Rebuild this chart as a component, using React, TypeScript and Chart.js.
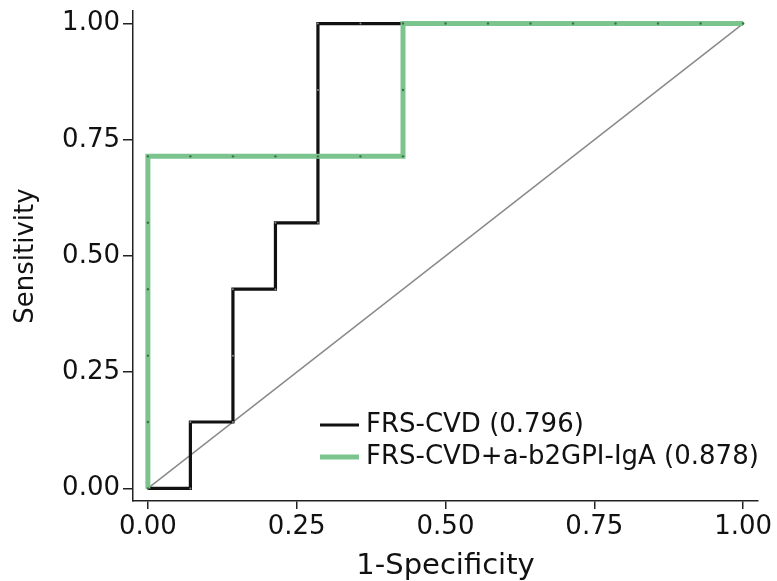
import React, { useEffect, useRef } from "react";
import { Chart, registerables } from "chart.js";

Chart.register(...registerables);

const tickValues = [0, 0.25, 0.5, 0.75, 1];

const frsFpr = [0, 0.0714, 0.0714, 0.1429, 0.1429, 0.1429, 0.2143, 0.2143, 0.2857, 0.2857, 0.2857, 0.2857, 0.3571, 0.4286, 0.5, 0.5714, 0.6429, 0.7143, 0.7857, 0.8571, 0.9286, 1.0];
const frsTpr = [0, 0, 0.1429, 0.1429, 0.2857, 0.4286, 0.4286, 0.5714, 0.5714, 0.7143, 0.8571, 1, 1, 1, 1, 1, 1, 1, 1, 1, 1, 1];

const comboFpr = [0, 0, 0, 0, 0, 0, 0.0714, 0.1429, 0.2143, 0.2857, 0.3571, 0.4286, 0.4286, 0.4286, 0.5, 0.5714, 0.6429, 0.7143, 0.7857, 0.8571, 0.9286, 1.0];
const comboTpr = [0, 0.1429, 0.2857, 0.4286, 0.5714, 0.7143, 0.7143, 0.7143, 0.7143, 0.7143, 0.7143, 0.7143, 0.8571, 1, 1, 1, 1, 1, 1, 1, 1, 1];

const refX = [0, 1];
const refY = [0, 1];

const legendLabels = ["FRS-CVD (0.796)", "FRS-CVD+a-b2GPI-IgA (0.878)"];
const xTitle = "1-Specificity";
const yTitle = "Sensitivity";

const BLACK = "#111111";
const GREEN = "#7cc48d";
const FONT = "'DejaVu Sans', sans-serif";

const zip = (xs: number[], ys: number[]) => xs.map((x, i) => ({ x, y: ys[i] }));

const legendPlugin = {
  id: "insideLegend",
  afterDraw(chart: any) {
    const ctx = chart.ctx;
    ctx.save();
    const rows = [
      { y: 425, color: BLACK, width: 3, label: legendLabels[0] },
      { y: 457, color: GREEN, width: 5, label: legendLabels[1] },
    ];
    for (const r of rows) {
      ctx.strokeStyle = r.color;
      ctx.lineWidth = r.width;
      ctx.beginPath();
      ctx.moveTo(320, r.y);
      ctx.lineTo(359, r.y);
      ctx.stroke();
      ctx.fillStyle = "#111111";
      ctx.font = `26px ${FONT}`;
      ctx.textBaseline = "middle";
      ctx.textAlign = "left";
      ctx.fillText(r.label, 366, r.y);
    }
    ctx.restore();
  },
};

export default function App() {
  const ref = useRef<HTMLCanvasElement | null>(null);
  useEffect(() => {
    if (!ref.current) return;
    const chart = new Chart(ref.current, {
      type: "scatter",
      data: {
        datasets: [
          {
            label: "reference",
            data: zip(refX, refY),
            showLine: true,
            borderColor: "#8a8a8a",
            borderWidth: 1.5,
            pointRadius: 0,
            order: 3,
          },
          {
            label: legendLabels[0],
            data: zip(frsFpr, frsTpr),
            showLine: true,
            borderColor: BLACK,
            borderWidth: 3.2,
            pointRadius: 1,
            pointBorderWidth: 0,
            pointBackgroundColor: "#888888",
            order: 2,
          },
          {
            label: legendLabels[1],
            data: zip(comboFpr, comboTpr),
            showLine: true,
            borderColor: GREEN,
            borderWidth: 5,
            pointRadius: 1.2,
            pointBorderWidth: 0,
            pointBackgroundColor: "#3d6e48",
            order: 1,
          },
        ],
      },
      options: {
        animation: false,
        responsive: true,
        maintainAspectRatio: false,
        layout: { padding: { top: 11, right: 19, left: 0, bottom: 0 } },
        plugins: { legend: { display: false }, tooltip: { enabled: false } },
        scales: {
          x: {
            type: "linear",
            min: -0.025,
            max: 1.025,
            afterBuildTicks: (s: any) => {
              s.ticks = tickValues.map((v) => ({ value: v }));
            },
            afterFit: (s: any) => {
              s.height = 80;
              s.paddingLeft = 0;
              s.paddingRight = 0;
            },
            border: { display: true, color: "#222222", width: 1.5 },
            grid: { display: true, drawOnChartArea: false, drawTicks: true, tickLength: 8, color: "#222222", lineWidth: 1.5 },
            ticks: {
              color: "#111111",
              font: { family: FONT, size: 26 },
              padding: 3,
              maxRotation: 0,
              callback: (v: any) => Number(v).toFixed(2),
            },
            title: {
              display: true,
              text: xTitle,
              color: "#111111",
              font: { family: FONT, size: 29, lineHeight: 1 },
              padding: { top: 0, bottom: 0 },
            },
          },
          y: {
            type: "linear",
            min: -0.027,
            max: 1.027,
            afterBuildTicks: (s: any) => {
              s.ticks = tickValues.map((v) => ({ value: v }));
            },
            afterFit: (s: any) => {
              s.width = 133;
              s.paddingTop = 0;
              s.paddingBottom = 0;
            },
            border: { display: true, color: "#222222", width: 1.5 },
            grid: { display: true, drawOnChartArea: false, drawTicks: true, tickLength: 10, color: "#222222", lineWidth: 1.5 },
            ticks: {
              color: "#111111",
              font: { family: FONT, size: 26 },
              padding: 3,
              callback: (v: any) => Number(v).toFixed(2),
            },
            title: {
              display: true,
              text: yTitle,
              color: "#111111",
              font: { family: FONT, size: 26, lineHeight: 1 },
              padding: { top: 13, bottom: 0 },
            },
          },
        },
      },
      plugins: [legendPlugin],
    });
    return () => chart.destroy();
  }, []);
  return (
    <div style={{ position: "fixed", left: 0, top: 0, width: 777, height: 581, background: "#ffffff" }}>
      <canvas ref={ref} />
    </div>
  );
}
